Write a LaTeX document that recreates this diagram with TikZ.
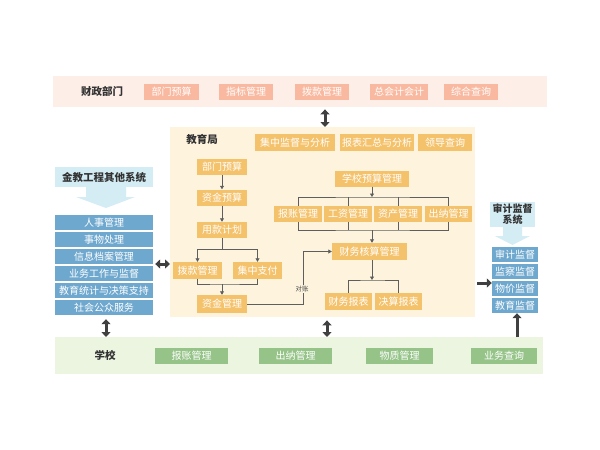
\documentclass[tikz,border=0pt]{standalone}
\usepackage{fontspec}
\setmainfont{Noto Sans CJK SC}
\usetikzlibrary{arrows.meta}
\definecolor{pinkband}{HTML}{FDEEE7}
\definecolor{pinkbox}{HTML}{F9B9A0}
\definecolor{yelband}{HTML}{FEF4DE}
\definecolor{orgbox}{HTML}{F5C26C}
\definecolor{ltblue}{HTML}{D4EDF5}
\definecolor{bluebox}{HTML}{6FA8CE}
\definecolor{grnband}{HTML}{EBF5E0}
\definecolor{grnbox}{HTML}{95C388}
\definecolor{darkarr}{HTML}{404040}
\definecolor{lngray}{HTML}{5E5E5E}
\tikzset{
  band/.style={draw=none,inner sep=0pt,anchor=north west},
  tag/.style={font=\fontsize{10.5}{12}\selectfont\bfseries,text=black!80},
  box/.style={inner sep=0pt,text=white,font=\fontsize{10}{11}\selectfont},
  pbox/.style={box,fill=pinkbox,minimum height=16pt},
  obox/.style={box,fill=orgbox,minimum height=16pt},
  bbox/.style={box,fill=bluebox,minimum height=15pt,minimum width=98pt},
  rbox/.style={box,fill=bluebox,minimum height=15pt,minimum width=46pt},
  gbox/.style={box,fill=grnbox,minimum height=16pt},
  ln/.style={draw=lngray,line width=0.8pt},
  arr/.style={ln,-{Triangle[length=3.5pt,width=4pt]}},
  big/.style={draw=darkarr,line width=3pt,-{Triangle[length=5pt,width=9pt]}},
  bigd/.style={big,{Triangle[length=5pt,width=9pt]}-{Triangle[length=5pt,width=9pt]}},
}
\begin{document}
\begin{tikzpicture}[x=1pt,y=-1pt]
\useasboundingbox[fill=white] (0,0) rectangle (600,450);

% bands
\node[band,fill=pinkband,minimum width=494pt,minimum height=31pt] (czbm) at (53,76) {};
\node[band,fill=yelband,minimum width=305pt,minimum height=190pt] (jyj) at (170,127) {};
\node[band,fill=grnband,minimum width=488pt,minimum height=37pt] (xx) at (55,337) {};

% 财政部门
\node[tag] (czlab) at (102,91) {财政部门};
\node[pbox,minimum width=55pt] (fb1) at (171.5,92) {部门预算};
\node[pbox,minimum width=54pt] (fb2) at (246,92) {指标管理};
\node[pbox,minimum width=54pt] (fb3) at (322,92) {拨款管理};
\node[pbox,minimum width=58pt] (fb4) at (399,92) {总会计会计};
\node[pbox,minimum width=54pt] (fb5) at (471,92) {综合查询};

% 教育局
\node[tag] (jylab) at (202,139) {教育局};
\node[obox,minimum width=80pt,minimum height=17pt] (jg1) at (295,142.5) {集中监督与分析};
\node[obox,minimum width=74pt,minimum height=17pt] (jg2) at (377,142.5) {报表汇总与分析};
\node[obox,minimum width=54pt,minimum height=17pt] (jg3) at (445,142.5) {领导查询};

\node[obox,minimum width=50pt] (bmys) at (222,167) {部门预算};
\node[obox,minimum width=50pt] (zjys) at (222,197.5) {资金预算};
\node[obox,minimum width=50pt] (ykjh) at (222,230) {用款计划};
\node[obox,minimum width=49pt,minimum height=17pt] (bkgl) at (197.5,270.5) {拨款管理};
\node[obox,minimum width=49pt,minimum height=17pt] (jzzf) at (257.5,270.5) {集中支付};
\node[obox,minimum width=50pt,minimum height=18pt] (zjgl) at (222,304) {资金管理};

\node[obox,minimum width=74pt] (xxys) at (372,178.5) {学校预算管理};
\node[obox,minimum width=48pt] (bzgl) at (298,214) {报账管理};
\node[obox,minimum width=48pt] (gzgl) at (348,214) {工资管理};
\node[obox,minimum width=48pt] (zcgl) at (398,214) {资产管理};
\node[obox,minimum width=47pt] (cngl) at (448.5,214) {出纳管理};
\node[obox,minimum width=75pt,minimum height=17pt] (cwhs) at (369.5,251.5) {财务核算管理};
\node[obox,minimum width=47pt,minimum height=17pt] (cwbb) at (348.5,301.5) {财务报表};
\node[obox,minimum width=47pt,minimum height=17pt] (jsbb) at (398.5,301.5) {决算报表};

\draw[arr] (bmys) -- (zjys);
\draw[arr] (zjys) -- (ykjh);
\draw[ln] (ykjh.south) -- (ykjh.south |- 0,249) coordinate (j1);
\draw[arr] (j1) -| (bkgl.north);
\draw[arr] (j1) -| (jzzf.north);
\draw[ln] (bkgl.south) |- (222,284) coordinate (j2) -| (jzzf.south);
\draw[arr] (j2) -- (zjgl.north);
\draw[arr] (zjgl.east) -| (303,251.5) coordinate (j3) -- (cwhs.west);
\node[font=\fontsize{6.5}{7}\selectfont,text=black!70,fill=yelband,inner sep=0.5pt] (dz) at (302,289) {对账};

\draw[arr] (xxys.south) -- (xxys.south |- 0,197) coordinate (j4);
\draw[ln] (bzgl.north) |- (j4) -| (cngl.north);
\draw[ln] (gzgl.north) -- (gzgl.north |- j4);
\draw[ln] (zcgl.north) -- (zcgl.north |- j4);
\draw[ln] (bzgl.south) |- (372,230) coordinate (j5) -| (cngl.south);
\draw[ln] (gzgl.south) -- (gzgl.south |- j5);
\draw[ln] (zcgl.south) -- (zcgl.south |- j5);
\draw[arr] (j5) -- (cwhs.north -| j5);
\draw[arr] (cwhs.south -| j5) -- (372,280) coordinate (j6);
\draw[ln] (cwbb.north) |- (j6) -| (jsbb.north);

% 金教工程其他系统
\node[fill=ltblue,minimum width=98pt,minimum height=20pt,inner sep=0pt,tag] (jjgc) at (104,177) {金教工程其他系统};
\fill[ltblue] (86,187) -- (126,187) -- (126,197) -- (135,197) -- (106,208) -- (76,197) -- (86,197) -- cycle;
\node[bbox] (l1) at (104,222.5) {人事管理};
\node[bbox] (l2) at (104,239.5) {事物处理};
\node[bbox] (l3) at (104,256.5) {信息档案管理};
\node[bbox] (l4) at (104,273.5) {业务工作与监督};
\node[bbox] (l5) at (104,290.5) {教育统计与决策支持};
\node[bbox] (l6) at (104,307.5) {社会公众服务};

% 审计监督系统
\node[fill=ltblue,minimum width=45pt,minimum height=25pt,inner sep=0pt,tag,align=center,font=\fontsize{10}{11}\selectfont\bfseries] (sjjd) at (512.5,214.5) {审计监督\\系统};
\fill[ltblue] (503,227) -- (522,227) -- (522,236) -- (530,236) -- (512.5,245) -- (495,236) -- (503,236) -- cycle;
\node[rbox] (r1) at (515,254.5) {审计监督};
\node[rbox] (r2) at (515,271.5) {监察监督};
\node[rbox] (r3) at (515,288.5) {物价监督};
\node[rbox] (r4) at (515,305.5) {教育监督};

% 学校
\node[tag] (xxlab) at (105,355) {学校};
\node[gbox,minimum width=73pt] (x1) at (191.5,356) {报账管理};
\node[gbox,minimum width=73pt] (x2) at (295.5,356) {出纳管理};
\node[gbox,minimum width=67pt] (x3) at (399.5,356) {物质管理};
\node[gbox,minimum width=66pt] (x4) at (504,356) {业务查询};

% big arrows
\draw[bigd] (czbm.south -| 325,0) ++(0,2) -- (jyj.north -| 325,0);
\draw[bigd] (l4.east |- 0,264) ++(2,0) -- (jyj.west |- 0,264);
\draw[big] (jyj.east |- 0,283) ++(2,0) -- (r3.west |- 0,283);
\draw[bigd] (l6.south) ++(2,4) -- (xx.north -| 106,0);
\draw[bigd] (jyj.south -| 327,0) ++(0,3) -- (xx.north -| 327,0);
\draw[big] (xx.north -| 517,0) -- (r4.south -| 517,0);
\end{tikzpicture}
\end{document}
